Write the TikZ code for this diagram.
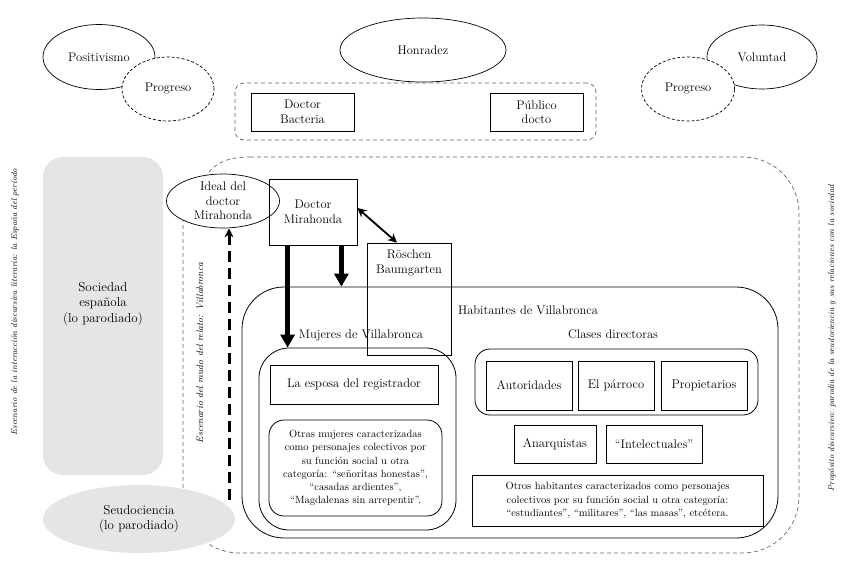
\documentclass[tikz,border=0pt]{standalone}
\usepackage{fontspec}
\usetikzlibrary{arrows.meta,shapes.geometric}
\begin{document}
\begin{tikzpicture}[x=1pt,y=-1pt,
  every node/.style={font=\fontsize{12.5}{14.5}\selectfont, align=center},
  bubble/.style={draw, ellipse, line width=0.7pt, fill=white, inner sep=0pt},
  dashbubble/.style={bubble, dash pattern=on 3pt off 2pt},
  box/.style={draw, line width=0.8pt, inner sep=0pt},
  roundbox/.style={box, rounded corners=#1},
  shade/.style={fill=black!10, inner sep=0pt},
  small/.style={font=\fontsize{10.5}{13.2}\selectfont},
  side/.style={rotate=90, font=\itshape\fontsize{8.5}{10}\selectfont},
  frame/.style={black!60, line width=0.7pt, dash pattern=on 4pt off 3pt},
  bigarrow/.style={line width=5pt, -{Triangle[width=14pt,length=13pt]}},
  twoarrow/.style={line width=1.8pt, {Stealth[width=9pt,length=9pt]}-{Stealth[width=9pt,length=9pt]}},
  dasharrow/.style={line width=3pt, dash pattern=on 11pt off 6pt, -{Stealth[width=9pt,length=9pt]}}]

\useasboundingbox (0,0) rectangle (851,573);

\node[bubble, minimum width=112pt, minimum height=65pt] (posit) at (99,57) {Positivismo};
\node[dashbubble, minimum width=92pt, minimum height=64pt] (progl) at (168,89) {Progreso};
\node[bubble, minimum width=166pt, minimum height=64pt] (honra) at (423,50) {Honradez};
\node[bubble, minimum width=110pt, minimum height=64pt] (volun) at (762,57) {Voluntad};
\node[dashbubble, minimum width=93pt, minimum height=64pt] (progr) at (688,89) {Progreso};

\node[frame, draw, rounded corners=9pt, minimum width=361pt, minimum height=57pt] (ideas) at (415.5,111.5) {};
\node[box, minimum width=103pt, minimum height=38pt] (bact) at (302.5,112) {Doctor\\Bacteria};
\node[box, minimum width=93pt, minimum height=38pt] (publ) at (536.5,112) {Público\\docto};

\draw[frame] (205,178) to[out=60,in=180] (250,157);
\draw[frame, rounded corners=56pt] (250,157) -- (799,157) -- (799,553) -- (183,553) -- (183,205);

\node[shade, rounded corners=20pt, minimum width=120pt, minimum height=318pt] (soc) at (103,316) {};
\node[font=\fontsize{13}{15.5}\selectfont] (soctext) at (103,304) {Sociedad\\española\\(lo parodiado)};
\node[shade, ellipse, minimum width=192pt, minimum height=68pt, font=\fontsize{13}{15}\selectfont] (seudo) at (139,519) {Seudociencia\\(lo parodiado)};

\node[bubble, inner ysep=-4pt, minimum width=113pt, minimum height=54pt] (ideal) at (223,201) {Ideal del\\doctor\\Mirahonda};
\node[box, minimum width=88pt, minimum height=66pt] (dm) at (313,212) {Doctor\\Mirahonda};

\node[roundbox=42pt, minimum width=536pt, minimum height=251pt] (hab) at (510,412.5) {};
\node (habtext) at (528,310) {Habitantes de Villabronca};

\node[box, minimum width=84pt, minimum height=112pt] (rosch) at (409,299) {};
\node[anchor=north] (roschtext) at ([yshift=-4pt]rosch.north) {Röschen\\Baumgarten};

\node[roundbox=30pt, minimum width=197pt, minimum height=182pt] (muj) at (357.5,439) {};
\node (mujtext) at (361,335) {Mujeres de Villabronca};
\node[box, minimum width=168pt, minimum height=39pt] (esposa) at (354,384.5) {La esposa del registrador};
\node[roundbox=15pt, small, minimum width=173pt, minimum height=96pt] (otrasmuj) at (355.5,468) {Otras mujeres caracterizadas\\como personajes colectivos por\\su función social u otra\\categoría: “señoritas honestas”,\\“casadas ardientes”,\\“Magdalenas sin arrepentir”.};

\node (clastext) at (613,334) {Clases directoras};
\node[roundbox=15pt, minimum width=283pt, minimum height=66pt] (clases) at (616.5,382) {};
\node[box, minimum width=86pt, minimum height=49pt] (autor) at (529,385.5) {Autoridades};
\node[box, minimum width=76pt, minimum height=49pt] (parro) at (616,385.5) {El párroco};
\node[box, minimum width=86pt, minimum height=49pt] (propi) at (704,385.5) {Propietarios};
\node[box, minimum width=82pt, minimum height=38pt] (anarq) at (555,444) {Anarquistas};
\node[box, minimum width=96pt, minimum height=38pt] (intel) at (654,444) {“Intelectuales”};
\node[box, small, minimum width=291pt, minimum height=51pt] (otroshab) at (617.5,500.5) {Otros habitantes caracterizados como personajes\\colectivos por su función social u otra categoría:\\“estudiantes”, “militares”, “las masas”, etcétera.};

\node[side] (sidel) at (15,302) {Escenario de la interacción discursiva literaria: la España del período};
\node[side, font=\itshape\fontsize{9.4}{11}\selectfont] (sidem) at (200,353) {Escenario del mudo del relato: Villabronca};
\node[side] (sider) at (832,338) {Propósito discursivo: parodia de la seudociencia y sus relaciones con la sociedad};

\draw[bigarrow] ([xshift=19pt]dm.south west) -- ([xshift=19pt]dm.south west |- muj.north);
\draw[bigarrow] ([xshift=-16pt]dm.south east) -- ([xshift=-16pt]dm.south east |- hab.north);
\draw[twoarrow] ([yshift=4pt]dm.east) -- ([xshift=-12pt]rosch.north);
\coordinate (dstart) at (229,500);
\draw[dasharrow] (dstart) -- (dstart |- ideal.south);
\end{tikzpicture}
\end{document}
